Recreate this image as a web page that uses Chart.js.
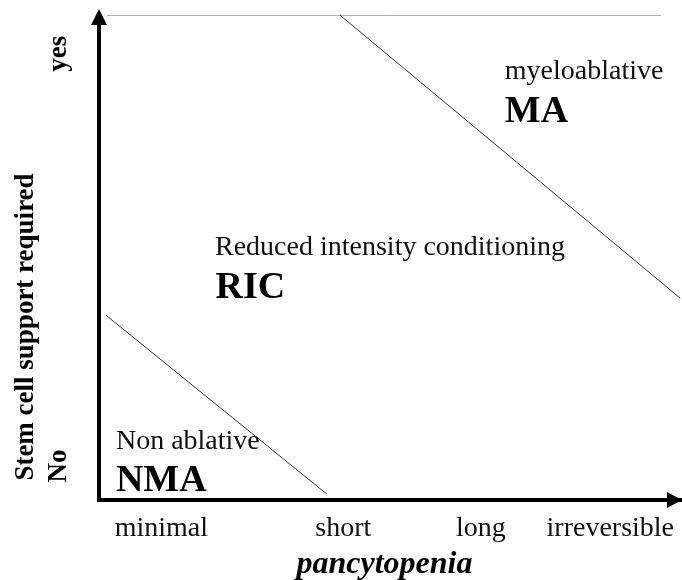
<!DOCTYPE html>
<html>
<head>
<meta charset="utf-8">
<script src="https://cdn.jsdelivr.net/npm/chart.js@4"></script>
<style>
  html, body { margin: 0; padding: 0; background: #fff; }
  #wrap { width: 682px; height: 580px; position: relative; }
</style>
</head>
<body>
<div id="wrap"><canvas id="c"></canvas></div>
<script>
// ---- data ----
const xCategories = ['minimal', 'short', 'long', 'irreversible'];
const xCategoryPositions = [1.07, 4.19, 6.55, 8.77];
const yCategories = ['No', 'yes'];
const yCategoryPositions = [0.7, 9.2];
const xAxisTitle = 'pancytopenia';
const yAxisTitle = 'Stem cell support required';

// boundary lines (data coordinates)
const boundaryNMA_RIC_x = [0.12, 3.91];
const boundaryNMA_RIC_y = [3.81, 0.12];
const boundaryRIC_MA_x = [4.13, 9.97];
const boundaryRIC_MA_y = [10, 4.16];
const topLine_x = [0.14, 9.64];
const topLine_y = [10, 10];

// regions
const regionSubtitles = ['myeloablative', 'Reduced intensity conditioning', 'Non ablative'];
const regionNames = ['MA', 'RIC', 'NMA'];
const regionSubX = [6.96, 1.99, 0.29];
const regionSubY = [8.68, 5.05, 1.05];
const regionNameX = [6.96, 2.0, 0.29];
const regionNameY = [7.79, 4.16, 0.19];

function pts(xs, ys) { return xs.map((x, i) => ({ x: x, y: ys[i] })); }

const SERIF = '"Liberation Serif", "Times New Roman", serif';

const overlay = {
  id: 'overlay',
  afterDraw(chart) {
    const ctx = chart.ctx;
    const xs = chart.scales.x, ys = chart.scales.y;
    const ca = chart.chartArea;
    ctx.save();
    ctx.fillStyle = '#000';

    // arrows
    const ax = ys.getPixelForValue(0);
    ctx.beginPath();
    ctx.moveTo(ca.right, ax);
    ctx.lineTo(ca.right - 15, ax - 8);
    ctx.lineTo(ca.right - 15, ax + 8);
    ctx.closePath();
    ctx.fill();
    const yx = xs.getPixelForValue(0);
    ctx.beginPath();
    ctx.moveTo(yx, ca.top - 6);
    ctx.lineTo(yx - 8, ca.top + 10);
    ctx.lineTo(yx + 8, ca.top + 10);
    ctx.closePath();
    ctx.fill();
    // corner fill
    ctx.fillRect(yx - 2, ax - 2, 4, 4);

    // region labels
    ctx.textAlign = 'left';
    ctx.textBaseline = 'alphabetic';
    for (let i = 0; i < regionNames.length; i++) {
      ctx.font = '28px ' + SERIF;
      ctx.fillStyle = '#111';
      ctx.fillText(regionSubtitles[i], xs.getPixelForValue(regionSubX[i]), ys.getPixelForValue(regionSubY[i]));
      ctx.font = 'bold 38px ' + SERIF;
      ctx.fillStyle = '#000';
      ctx.fillText(regionNames[i], xs.getPixelForValue(regionNameX[i]), ys.getPixelForValue(regionNameY[i]));
    }

    // x category labels
    ctx.textAlign = 'center';
    ctx.font = '28px ' + SERIF;
    ctx.fillStyle = '#111';
    xCategories.forEach((lab, i) => {
      ctx.fillText(lab, xs.getPixelForValue(xCategoryPositions[i]), ca.bottom + 36);
    });
    // x title
    ctx.font = 'italic bold 32px ' + SERIF;
    ctx.fillStyle = '#000';
    ctx.fillText(xAxisTitle, (ca.left + ca.right) / 2 - 6, ca.bottom + 73);

    // y category labels (rotated)
    ctx.font = 'bold 27px ' + SERIF;
    yCategories.forEach((lab, i) => {
      ctx.save();
      ctx.translate(ca.left - 33, ys.getPixelForValue(yCategoryPositions[i]));
      ctx.rotate(-Math.PI / 2);
      ctx.fillText(lab, 0, 0);
      ctx.restore();
    });
    // y title
    ctx.save();
    ctx.translate(ca.left - 66, 327);
    ctx.rotate(-Math.PI / 2);
    ctx.font = 'bold 27px ' + SERIF;
    ctx.fillText(yAxisTitle, 0, 0);
    ctx.restore();

    ctx.restore();
  }
};

new Chart(document.getElementById('c'), {
  type: 'scatter',
  data: {
    datasets: [
      { data: pts(boundaryNMA_RIC_x, boundaryNMA_RIC_y), showLine: true, borderColor: '#333', borderWidth: 1, pointRadius: 0 },
      { data: pts(boundaryRIC_MA_x, boundaryRIC_MA_y), showLine: true, borderColor: '#333', borderWidth: 1, pointRadius: 0 },
      { data: pts(topLine_x, topLine_y), showLine: true, borderColor: '#666', borderWidth: 1, pointRadius: 0 }
    ]
  },
  options: {
    responsive: true,
    maintainAspectRatio: false,
    animation: false,
    events: [],
    layout: { padding: { left: 99, top: 15, right: 0, bottom: 80 } },
    plugins: { legend: { display: false }, tooltip: { enabled: false } },
    scales: {
      x: {
        type: 'linear', min: 0, max: 10,
        grid: { display: false, drawTicks: false },
        ticks: { display: false },
        border: { display: true, color: '#000', width: 4 }
      },
      y: {
        type: 'linear', min: 0, max: 10,
        grid: { display: false, drawTicks: false },
        ticks: { display: false },
        border: { display: true, color: '#000', width: 4 }
      }
    }
  },
  plugins: [overlay]
});
</script>
</body>
</html>
